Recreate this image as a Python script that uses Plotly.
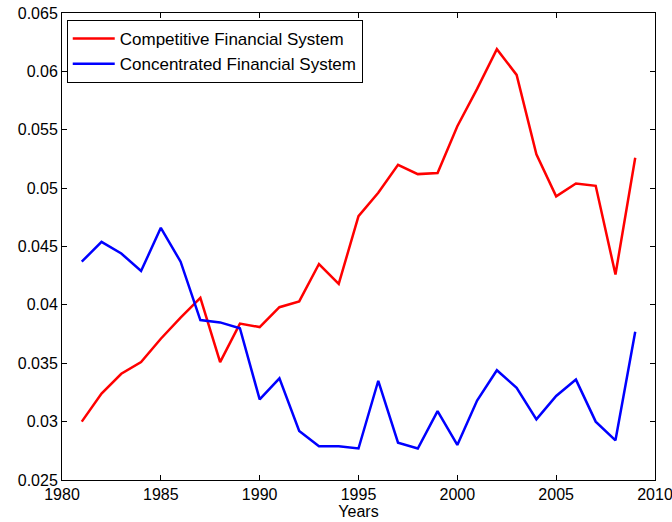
import plotly.graph_objects as go

years = list(range(1981, 2010))
competitive = [0.0300, 0.0324, 0.0341, 0.0351, 0.0371, 0.0389, 0.0406, 0.0351, 0.0384, 0.0381,
               0.0398, 0.0403, 0.0435, 0.0418, 0.0476, 0.0496, 0.0520, 0.0512, 0.0513, 0.0553,
               0.0585, 0.0619, 0.0597, 0.0529, 0.0493, 0.0504, 0.0502, 0.0426, 0.0526]
concentrated = [0.0437, 0.0454, 0.0444, 0.0429, 0.0466, 0.0437, 0.0387, 0.0385, 0.0380, 0.0319,
                0.0337, 0.0292, 0.0279, 0.0279, 0.0277, 0.0335, 0.0282, 0.0277, 0.0309, 0.0280,
                0.0318, 0.0344, 0.0329, 0.0302, 0.0322, 0.0336, 0.0300, 0.0284, 0.0377]
x_ticks = [1980, 1985, 1990, 1995, 2000, 2005, 2010]
y_ticks = [0.025, 0.03, 0.035, 0.04, 0.045, 0.05, 0.055, 0.06, 0.065]

fig = go.Figure()
fig.add_trace(go.Scatter(x=years, y=competitive, mode="lines", name="Competitive Financial System",
                         line=dict(color="#ff0000", width=2.5)))
fig.add_trace(go.Scatter(x=years, y=concentrated, mode="lines", name="Concentrated Financial System",
                         line=dict(color="#0000ff", width=2.5)))

axis_common = dict(showline=True, linecolor="black", linewidth=1, mirror="allticks",
                   ticks="inside", ticklen=5, tickcolor="black", showgrid=False, zeroline=False,
                   automargin=False, ticklabeloverflow="allow",
                   tickfont=dict(family="Liberation Sans, Arial", size=16, color="black"))

fig.update_xaxes(range=[1980, 2010], tickvals=x_ticks, ticktext=[str(t) for t in x_ticks],
                 title=dict(text="Years", font=dict(family="Liberation Sans, Arial", size=16, color="black"),
                            standoff=0),
                 **axis_common)
fig.update_yaxes(range=[0.025, 0.065], tickvals=y_ticks, ticktext=[f"{t:g}" for t in y_ticks],
                 **axis_common)

fig.update_layout(
    width=672, height=522,
    margin=dict(l=62, r=17, t=13, b=42),
    paper_bgcolor="white", plot_bgcolor="white",
    font=dict(family="Liberation Sans, Arial", size=16, color="black"),
    legend=dict(x=0.008, y=0.985, xanchor="left", yanchor="top",
                bordercolor="black", borderwidth=1, bgcolor="white",
                font=dict(size=17), tracegroupgap=0, itemwidth=42),
    showlegend=True,
)

fig.write_html("out.html", config={"displayModeBar": False},
               post_script="document.body.style.margin='0';")
